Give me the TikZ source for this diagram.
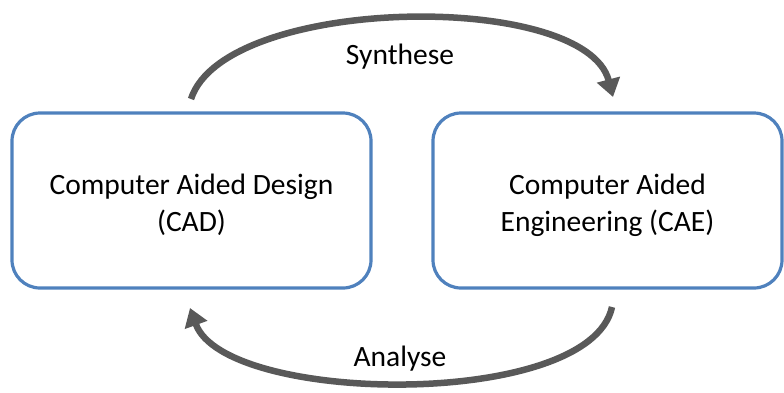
\documentclass[tikz,border=0pt]{standalone}
\usepackage{fontspec}
\setmainfont{Carlito}
\usetikzlibrary{arrows.meta}
\definecolor{boxblue}{HTML}{4F81BD}
\definecolor{arcgray}{HTML}{595959}
% tall strut that pushes a box's text block slightly downwards
\newcommand{\topstrut}{\rule{0pt}{30pt}}
\tikzset{
  procbox/.style={draw=boxblue, line width=3.2pt, rounded corners=28pt,
    minimum height=175pt, align=center, inner sep=0pt,
    font=\fontsize{29.5}{37}\selectfont},
  cyclearc/.style={draw=arcgray, line width=6.5pt,
    -{Triangle[length=18pt,width=23pt]}},
  arclabel/.style={font=\fontsize{29.5}{36}\selectfont, inner sep=0pt}
}
\begin{document}
\begin{tikzpicture}[x=1pt,y=-1pt]
  \useasboundingbox (0,0) rectangle (784,392);
  % the two process boxes
  \node[procbox, minimum width=359pt] (cad) at (191.5,200.5)
    {\topstrut Computer Aided Design\\(CAD)};
  \node[procbox, minimum width=349pt] (cae) at (607.5,200.5)
    {\topstrut Computer Aided\\Engineering (CAE)};
  % end points of the cycle arcs
  \coordinate (synA) at (191,99);
  \coordinate (synB) at (613,97);
  \coordinate (anaA) at (612,307);
  \coordinate (anaB) at (190,308);
  % synthesis: CAD -> CAE, analysis: CAE -> CAD
  \draw[cyclearc] (synA) .. controls (225,-5) and (585,-10) .. (synB);
  \draw[cyclearc] (anaA) .. controls (590,410) and (225,405) .. (anaB);
  \node[arclabel] (syn) at (400,57) {Synthese};
  \node[arclabel] (ana) at (400,359) {Analyse};
\end{tikzpicture}
\end{document}
